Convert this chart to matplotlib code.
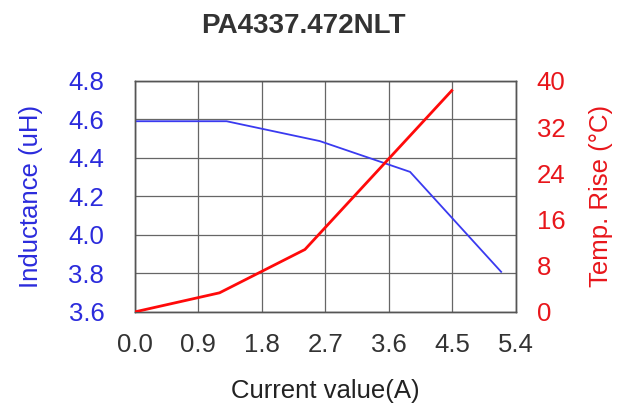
import matplotlib.pyplot as plt

plt.rcParams['font.family'] = ['Liberation Sans', 'DejaVu Sans']

# inductance curve
ind_current = [0.0, 1.3, 2.62, 3.9, 5.19]
inductance = [4.59, 4.59, 4.487, 4.327, 3.808]

# temperature rise curve
temp_current = [0.0, 1.2, 2.41, 4.49]
temp_rise = [0.0, 3.3, 10.8, 38.3]

x_ticks = [0.0, 0.9, 1.8, 2.7, 3.6, 4.5, 5.4]
ind_ticks = [3.6, 3.8, 4.0, 4.2, 4.4, 4.6, 4.8]
temp_ticks = [0, 8, 16, 24, 32, 40]

blue = '#2b2bdc'
red = '#e8161b'

fig = plt.figure(figsize=(6.3, 4.04), dpi=100)
ax1 = fig.add_axes([0.214, 0.228, 0.605, 0.572])
ax2 = ax1.twinx()

ax1.plot(ind_current, inductance, color='#3a3af0', lw=1.3, zorder=3)
ax2.plot(temp_current, temp_rise, color='#ff0a0a', lw=2.0, zorder=3)

ax1.set_xlim(0, 5.4)
ax1.set_ylim(3.6, 4.8)
ax2.set_ylim(0, 40)
ax1.set_xticks(x_ticks)
ax1.set_xticklabels([f"{v:.1f}" for v in x_ticks])
ax1.set_yticks(ind_ticks)
ax1.set_yticklabels([f"{v:.1f}" for v in ind_ticks])
ax2.set_yticks(temp_ticks)

ax1.grid(True, color='#666666', lw=0.9)
for ax in (ax1, ax2):
    for s in ax.spines.values():
        s.set_color('#555555')
        s.set_linewidth(1.0)
    ax.tick_params(length=0, labelsize=18.5)
ax1.tick_params(axis='x', colors='#333333', pad=15)
ax1.tick_params(axis='y', labelcolor=blue, pad=22)
ax2.tick_params(axis='y', labelcolor=red, pad=15)

ax1.set_xlabel("Current value(A)", fontsize=18.5, color='#222222', labelpad=16)
ax1.set_ylabel("Inductance (uH)", fontsize=18.5, color=blue, labelpad=18)
ax2.set_ylabel("Temp. Rise (°C)", fontsize=18.5, color=red, labelpad=17)
fig.text(0.481, 0.936, "PA4337.472NLT", fontsize=20, fontweight='bold',
         color='#333333', ha='center', va='center')

fig.savefig("out.png", dpi=100)
